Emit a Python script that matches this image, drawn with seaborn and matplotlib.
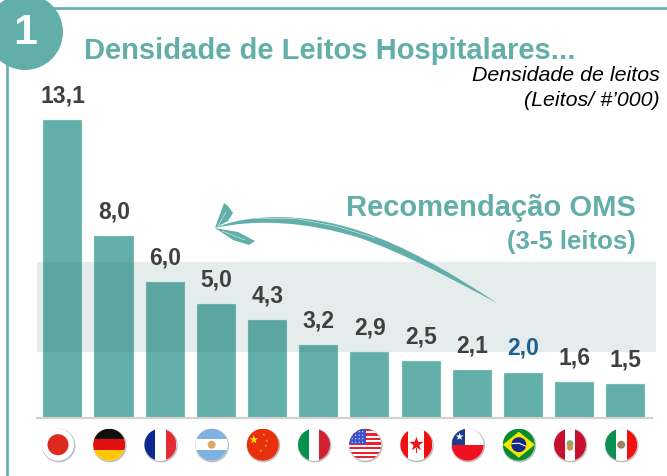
import numpy as np
import matplotlib.pyplot as plt
import matplotlib.patches as mp
from matplotlib.path import Path
import seaborn as sns

# Data
paises = ["Japao", "Alemanha", "Franca", "Argentina", "China", "Italia", "EUA",
          "Canada", "Chile", "Brasil", "Peru", "Mexico"]
leitos = [13.1, 8.0, 6.0, 5.0, 4.3, 3.2, 2.9, 2.5, 2.1, 2.0, 1.6, 1.5]
faixa_oms = [2.9, 6.85]

TEAL = "#62AEA8"
W, H = 667, 476

sns.set_style("white")
plt.rcParams["font.family"] = ["Liberation Sans", "DejaVu Sans"]

fig = plt.figure(figsize=(W / 100, H / 100), dpi=100)

# Bars: axes runs from the baseline to the top of the picture
ax = fig.add_axes([37 / W, (H - 418) / H, 615 / W, 418 / H])
ax.patch.set_alpha(0)
sns.barplot(x=paises, y=leitos, color=TEAL, saturation=1, width=0.765, ax=ax, zorder=1,
            edgecolor="#CFE5E2", linewidth=0.3)
ax.set_xlim(-0.503, 11.51)
ax.set_ylim(0, 418 / 22.75)
ax.set(xticks=[], yticks=[], xlabel="", ylabel="")
sns.despine(ax=ax, left=True)
ax.spines["bottom"].set_color("#D2D2D2")
ax.spines["bottom"].set_linewidth(1.6)

rotulos = [f"{v:.1f}".replace(".", ",") for v in leitos]
textos = ax.bar_label(ax.containers[0], labels=rotulos, padding=9, fontsize=16.5,
                      fontweight="bold", color="#404040", zorder=3)
textos[paises.index("Brasil")].set_color("#1F5F8B")

# WHO band sits over the bars but under the labels
ax.axhspan(faixa_oms[0], faixa_oms[1], xmin=0, xmax=619 / 615, clip_on=False,
           color="#2C7268", alpha=0.12, lw=0, zorder=2)

# Overlay in pixel coordinates for frame, texts, arrow and flags
deco = fig.add_axes([0, 0, 1, 1], zorder=3)
deco.set_xlim(0, W)
deco.set_ylim(H, 0)
deco.axis("off")

deco.plot([7.3, 7.3], [60, H], color=TEAL, lw=1.9, solid_capstyle="butt")
deco.plot([45, W], [8, 8], color=TEAL, lw=1.9, solid_capstyle="butt")
deco.add_patch(mp.Circle((25, 32), 38, color=TEAL, lw=0))
deco.text(25, 33, "1", color="white", fontsize=31, fontweight="bold", ha="center", va="center")

deco.text(84, 59, "Densidade de Leitos Hospitalares...", color=TEAL, fontsize=21,
          fontweight="bold", ha="left", va="baseline")
deco.text(660, 81, "Densidade de leitos", fontsize=15.4, style="italic", ha="right", va="baseline", color="black")
deco.text(660, 106, "(Leitos/ #’000)", fontsize=15.4, style="italic", ha="right", va="baseline", color="black")
deco.text(636, 216, "Recomendação OMS", color=TEAL, fontsize=21, fontweight="bold", ha="right", va="baseline")
deco.text(636, 249, "(3-5 leitos)", color=TEAL, fontsize=18.5, fontweight="bold", ha="right", va="baseline")

# Hand drawn arrow, tapered body as a bezier outline
C = Path.CURVE4
corpo = Path(
    [(215, 228), (245, 215), (300, 211), (360, 231), (405, 246), (450, 272), (497, 303),
     (450, 278), (405, 254), (360, 238), (305, 221), (255, 219), (215, 228)],
    [Path.MOVETO, C, C, C, C, C, C, C, C, C, C, C, C],
)
deco.add_patch(mp.PathPatch(corpo, color=TEAL, lw=0))
deco.add_patch(mp.Polygon([(215, 228), (224, 203), (228, 206), (233, 213), (228, 221)], closed=True, color=TEAL, lw=0))
deco.add_patch(mp.Polygon([(215, 228), (238, 232), (255, 241), (249, 245), (233, 240)], closed=True, color=TEAL, lw=0))
deco.plot([255, 295, 335, 375], [218.5, 218.5, 226, 238], color="white", lw=0.4, alpha=0.8)
deco.plot([218, 226], [226, 212], color="white", lw=0.4, alpha=0.8)
deco.plot([222, 245], [231, 240], color="white", lw=0.4, alpha=0.8)


# Flags
def flag_base(cx, cy, r=16):
    deco.add_patch(mp.Circle((cx + 0.6, cy + 0.8), r + 0.8, color="#BDBDBD", lw=0, zorder=4))
    disco = mp.Circle((cx, cy), r, color="white", lw=0, zorder=5)
    deco.add_patch(disco)
    return disco


def rect(disco, x0, y0, x1, y1, cor):
    p = mp.Rectangle((x0, y0), x1 - x0, y1 - y0, color=cor, lw=0, zorder=6)
    deco.add_patch(p)
    p.set_clip_path(disco)


def poly(disco, pts, cor, z=7):
    p = mp.Polygon(pts, closed=True, color=cor, lw=0, zorder=z)
    deco.add_patch(p)
    p.set_clip_path(disco)


def disc(disco, x, y, r, cor, z=8):
    p = mp.Circle((x, y), r, color=cor, lw=0, zorder=z)
    deco.add_patch(p)
    p.set_clip_path(disco)


def star(disco, x, y, r, cor):
    ang = np.deg2rad(np.arange(10) * 36 - 90)
    raio = np.where(np.arange(10) % 2 == 0, r, r * 0.4)
    poly(disco, np.c_[x + raio * np.cos(ang), y + raio * np.sin(ang)], cor, z=9)


def tri_v(d, x, y, c1, c2, c3, r=16):
    rect(d, x - r, y - r, x - r / 3, y + r, c1)
    rect(d, x - r / 3, y - r, x + r / 3, y + r, c2)
    rect(d, x + r / 3, y - r, x + r, y + r, c3)


def tri_h(d, x, y, c1, c2, c3, r=16):
    rect(d, x - r, y - r, x + r, y - r / 3, c1)
    rect(d, x - r, y - r / 3, x + r, y + r / 3, c2)
    rect(d, x - r, y + r / 3, x + r, y + r, c3)


cx = [58 + 51.2 * i for i in range(12)]
cy = 444.7
d = {p: flag_base(x, cy) for p, x in zip(paises, cx)}
x = dict(zip(paises, cx))

disc(d["Japao"], x["Japao"], cy, 10.5, "#DC2A1E")
tri_h(d["Alemanha"], x["Alemanha"], cy, "#101010", "#E01010", "#FFC800")
tri_v(d["Franca"], x["Franca"], cy, "#0B2A8F", "white", "#E22B34")
tri_h(d["Argentina"], x["Argentina"], cy, "#7FB2E0", "white", "#7FB2E0")
disc(d["Argentina"], x["Argentina"], cy, 4, "#E0A868")
rect(d["China"], x["China"] - 16, cy - 16, x["China"] + 16, cy + 16, "#E8300E")
star(d["China"], x["China"] - 9, cy - 5, 4.5, "#FFE000")
for dx, dy in [(1, -10), (4, -4), (3, 1), (-2, 6)]:
    star(d["China"], x["China"] + dx, cy + dy, 1.5, "#FFB800")
tri_v(d["Italia"], x["Italia"], cy, "#069150", "white", "#D1202F")
for i in range(7):
    y0 = cy - 16 + i * 32 / 7
    rect(d["EUA"], x["EUA"] - 16, y0, x["EUA"] + 16, y0 + 16 / 7, "#EE2030")
rect(d["EUA"], x["EUA"] - 16, cy - 16, x["EUA"] + 1, cy - 1, "#3C50C8")
for sx in np.arange(-13, 0, 3.5):
    for sy in np.arange(-13, -2, 3.5):
        disc(d["EUA"], x["EUA"] + sx, cy + sy, 0.6, "white")
rect(d["Canada"], x["Canada"] - 16, cy - 16, x["Canada"] - 8, cy + 16, "#F01010")
rect(d["Canada"], x["Canada"] + 8, cy - 16, x["Canada"] + 16, cy + 16, "#F01010")
star(d["Canada"], x["Canada"], cy - 0.5, 7.5, "#E81818")
rect(d["Canada"], x["Canada"] - 0.7, cy + 3, x["Canada"] + 0.7, cy + 8, "#E81818")
rect(d["Chile"], x["Chile"] - 16, cy, x["Chile"] + 16, cy + 16, "#F01020")
rect(d["Chile"], x["Chile"] - 16, cy - 16, x["Chile"] - 3, cy, "#1A3C8C")
star(d["Chile"], x["Chile"] - 8, cy - 8, 4, "white")
rect(d["Brasil"], x["Brasil"] - 16, cy - 16, x["Brasil"] + 16, cy + 16, "#0A8A30")
poly(d["Brasil"], [(x["Brasil"] - 16, cy), (x["Brasil"], cy - 13), (x["Brasil"] + 16, cy), (x["Brasil"], cy + 13)], "#F5E800")
disc(d["Brasil"], x["Brasil"], cy, 7.5, "#14288C")
deco.plot([x["Brasil"] - 7, x["Brasil"], x["Brasil"] + 7], [cy - 1, cy - 1.5, cy + 1.5], color="white", lw=0.8, zorder=9)
tri_v(d["Peru"], x["Peru"], cy, "#C8102E", "white", "#C8102E")
disc(d["Peru"], x["Peru"], cy - 1, 3.5, "#8FA870")
disc(d["Peru"], x["Peru"], cy + 3, 3, "#E08A40")
tri_v(d["Mexico"], x["Mexico"], cy, "#0C9050", "white", "#F01010")
disc(d["Mexico"], x["Mexico"], cy, 4, "#A08060")

fig.savefig("out.png", dpi=100)
plt.close(fig)
